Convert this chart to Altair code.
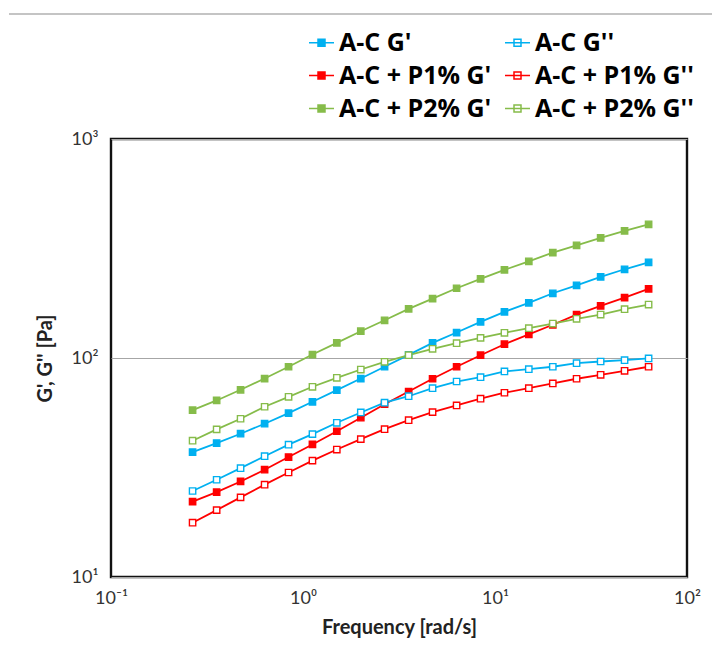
import altair as alt
import pandas as pd

# Frequency [rad/s]
freq = [0.266, 0.355, 0.473, 0.631, 0.841, 1.12, 1.50, 2.00, 2.66, 3.55,
        4.73, 6.31, 8.41, 11.2, 15.0, 20.0, 26.6, 35.5, 47.3, 63.1]

ac_gp = [37.2, 40.9, 45.1, 50.1, 56.0, 63.1, 71.3, 80.6, 91.2, 103.4,
         117.3, 130.7, 146.3, 162.5, 178.6, 197.5, 214.8, 234.6, 254.2, 273.5]
ac_gpp = [24.7, 27.8, 31.4, 35.6, 40.2, 44.9, 50.6, 56.4, 62.5, 66.9,
          72.8, 78.1, 81.7, 86.8, 88.9, 91.2, 94.7, 96.4, 97.7, 99.5]
p1_gp = [22.1, 24.4, 27.3, 30.9, 35.3, 40.3, 46.3, 53.4, 61.5, 70.3,
         80.4, 91.2, 103.0, 115.6, 128.3, 141.8, 157.9, 173.0, 188.8, 206.9]
p1_gpp = [17.7, 20.2, 23.1, 26.4, 30.0, 34.0, 38.2, 42.6, 47.3, 52.0,
          56.6, 60.7, 65.2, 69.4, 72.8, 76.5, 80.4, 83.8, 87.4, 91.2]
p2_gp = [57.8, 64.0, 71.6, 80.6, 91.2, 103.7, 117.3, 132.5, 148.7, 167.7,
         186.8, 208.2, 229.8, 252.6, 276.4, 302.9, 327.1, 353.5, 380.5, 407.7]
p2_gpp = [41.9, 47.2, 52.8, 59.9, 66.5, 73.9, 81.2, 88.6, 96.1, 103.0,
          110.2, 116.8, 123.6, 130.3, 136.8, 143.7, 151.0, 157.9, 167.0, 175.4]

# legend is filled column by column: G' column first, then G'' column
series_names = ["A-C G'", "A-C + P1% G'", "A-C + P2% G'",
                "A-C G''", "A-C + P1% G''", "A-C + P2% G''"]
series_values = [ac_gp, p1_gp, p2_gp, ac_gpp, p1_gpp, p2_gpp]

BLUE = "#00B0F0"
RED = "#FF0000"
GREEN = "#86BC4A"
stroke_colors = [BLUE, RED, GREEN, BLUE, RED, GREEN]
fill_colors = [BLUE, RED, GREEN, "white", "white", "white"]

rows = []
for name, vals in zip(series_names, series_values):
    for f, v in zip(freq, vals):
        rows.append({"freq": f, "G": v, "series": name})
df = pd.DataFrame(rows)

FONT = "Lato"
BOLD_FONT = "Open Sans"
sym_path = "M-1,0L1,0M-0.28,-0.28L0.28,-0.28L0.28,0.28L-0.28,0.28Z"

legend = alt.Legend(
    title=None, orient="none", legendX=197, legendY=-110, columns=2,
    symbolType=sym_path, symbolSize=625, symbolStrokeWidth=1.5,
    labelFont=BOLD_FONT, labelFontWeight="bold", labelFontSize=25, labelColor="black",
    labelLimit=400, columnPadding=10, rowPadding=6, labelOffset=4, padding=0,
)

stroke_scale = alt.Scale(domain=series_names, range=stroke_colors)
fill_scale = alt.Scale(domain=series_names, range=fill_colors)

x_enc = alt.X(
    "freq:Q",
    scale=alt.Scale(type="log", domain=[0.1, 100], nice=False),
    axis=alt.Axis(
        values=[0.1, 1, 10, 100],
        labelExpr="'10' + (datum.value < 0.5 ? '⁻¹' : datum.value < 5 ? '⁰' : datum.value < 50 ? '¹' : '²')",
        title="Frequency [rad/s]", grid=False, ticks=False, domain=False,
        labelFont=FONT, labelFontSize=18, labelColor="#333333", labelPadding=12,
        labelFlush=False, labelOverlap=False,
        titleFont=FONT, titleFontSize=20, titleFontWeight="bold", titleColor="#222222",
        titlePadding=10,
    ),
)
y_enc = alt.Y(
    "G:Q",
    scale=alt.Scale(type="log", domain=[10, 1000], nice=False),
    axis=alt.Axis(
        values=[10, 100, 1000],
        labelExpr="'10' + (datum.value < 50 ? '¹' : datum.value < 500 ? '²' : '³')",
        title="G', G'' [Pa]", grid=True, gridColor="#a6a6a6", gridWidth=1.2,
        ticks=False, domain=False,
        labelFont=FONT, labelFontSize=18, labelColor="#333333", labelPadding=13,
        labelFlush=False, labelOverlap=False,
        titleFont=FONT, titleFontSize=20, titleFontWeight="bold", titleColor="#222222",
        titlePadding=16,
    ),
)

base = alt.Chart(df)
lines = base.mark_line(strokeWidth=1.8).encode(
    x=x_enc, y=y_enc,
    stroke=alt.Stroke("series:N", scale=stroke_scale, legend=legend),
    detail="series:N",
)
points = base.mark_point(shape="square", size=40, strokeWidth=1.4, opacity=1).encode(
    x=x_enc, y=y_enc,
    stroke=alt.Stroke("series:N", scale=stroke_scale, legend=legend),
    fill=alt.Fill("series:N", scale=fill_scale, legend=legend),
)
top_line = alt.Chart(pd.DataFrame({"a": [0]})).mark_rule(
    color="#c4c4c4", strokeWidth=2
).encode(x=alt.value(-102), x2=alt.value(601), y=alt.value(-125))

chart = alt.layer(top_line, lines, points).properties(
    width=576, height=438,
    padding={"left": 111, "top": 139, "right": 25, "bottom": 69},
    autosize=alt.AutoSizeParams(type="none"),
).configure(background="white").configure_view(stroke="#111111", strokeWidth=2.4)

chart.save("out.html", embed_options={"renderer": "svg", "actions": False})
